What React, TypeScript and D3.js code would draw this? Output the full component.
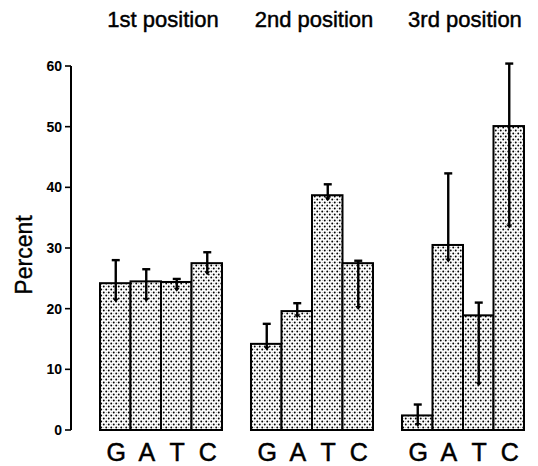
import React from "react";
import * as d3 from "d3";

const groups = ["1st position", "2nd position", "3rd position"];
const bases = ["G", "A", "T", "C"];
const values1 = [24.2, 24.5, 24.4, 27.5];
const values2 = [14.2, 19.6, 38.7, 27.5];
const values3 = [2.4, 30.5, 18.9, 50.1];
const upper1 = [28.0, 26.5, 24.9, 29.3];
const lower1 = [21.0, 21.1, 22.8, 25.5];
const upper2 = [17.5, 20.9, 40.5, 27.9];
const lower2 = [13.1, 18.4, 37.7, 19.8];
const upper3 = [4.2, 42.3, 21.0, 60.4];
const lower3 = [0.5, 27.6, 7.2, 33.2];
const yTicks = [0, 10, 20, 30, 40, 50, 60];
const yLabel = "Percent";

const values = [values1, values2, values3];
const uppers = [upper1, upper2, upper3];
const lowers = [lower1, lower2, lower3];

const W = 538;
const H = 466;
const FONT = "'Liberation Sans', Arial, Helvetica, sans-serif";

export default function App() {
  const x0 = d3.scaleBand<string>().domain(groups).range([100, 524]).paddingInner(0.192).paddingOuter(0);
  const x1 = d3.scaleBand<string>().domain(bases).range([0, x0.bandwidth()]).padding(0);
  const y = d3.scaleLinear().domain([0, 60]).range([430, 66]);

  return (
    <svg width={W} height={H} style={{ position: "absolute", left: 0, top: 0, background: "#fff" }}>
      <defs>
        <pattern id="dots" width={5} height={6} patternUnits="userSpaceOnUse">
          <rect width={5} height={6} fill="#fff" />
          <circle cx={1.25} cy={1.5} r={0.95} fill="#000" />
          <circle cx={3.75} cy={4.5} r={0.95} fill="#000" />
          <circle cx={3.75} cy={1.5} r={0.45} fill="#777" />
          <circle cx={1.25} cy={4.5} r={0.45} fill="#777" />
        </pattern>
      </defs>

      {/* y axis */}
      <line x1={71} x2={71} y1={y(60)} y2={y(0)} stroke="#000" strokeWidth={2} />
      {yTicks.map((t) => (
        <g key={t} transform={`translate(0,${y(t)})`}>
          <line x1={65} x2={71} stroke="#000" strokeWidth={1.6} />
          <text x={62} dy="0.35em" textAnchor="end" fontFamily={FONT} fontSize={14} fontWeight="bold" fill="#000">
            {t}
          </text>
        </g>
      ))}
      <text
        transform={`translate(32,255) rotate(-90)`}
        textAnchor="middle"
        fontFamily={FONT}
        fontSize={23}
        fill="#000"
        stroke="#000"
        strokeWidth={0.4}
      >
        {yLabel}
      </text>

      {groups.map((g, gi) => {
        const gx = x0(g) as number;
        return (
          <g key={g} transform={`translate(${gx},0)`}>
            <text
              x={x0.bandwidth() / 2 + 2}
              y={27}
              textAnchor="middle"
              fontFamily={FONT}
              fontSize={22}
              fill="#000"
              stroke="#000"
              strokeWidth={0.45}
            >
              {g}
            </text>
            {bases.map((b, bi) => {
              const v = values[gi][bi];
              const bx = x1(b) as number;
              return (
                <rect
                  key={b}
                  x={bx}
                  y={y(v)}
                  width={x1.bandwidth()}
                  height={y(0) - y(v)}
                  fill="url(#dots)"
                  stroke="#000"
                  strokeWidth={2}
                />
              );
            })}
            {bases.map((b, bi) => {
              const cx = (x1(b) as number) + x1.bandwidth() / 2 + 0.5;
              const yu = y(uppers[gi][bi]);
              const yl = y(lowers[gi][bi]);
              return (
                <g key={"e" + b}>
                  <line x1={cx} x2={cx} y1={yu} y2={yl - 2} stroke="#000" strokeWidth={2.4} />
                  <line x1={cx - 4} x2={cx + 4} y1={yu} y2={yu} stroke="#000" strokeWidth={2.4} />
                  <path d={`M${cx - 3},${yl - 4} L${cx + 3},${yl - 4} L${cx},${yl} Z`} fill="#000" />
                </g>
              );
            })}
            {bases.map((b) => (
              <text
                key={"l" + b}
                x={(x1(b) as number) + x1.bandwidth() / 2 + 1}
                y={461}
                textAnchor="middle"
                fontFamily={FONT}
                fontSize={25}
                fill="#000"
                stroke="#000"
                strokeWidth={0.5}
              >
                {b}
              </text>
            ))}
          </g>
        );
      })}
    </svg>
  );
}
